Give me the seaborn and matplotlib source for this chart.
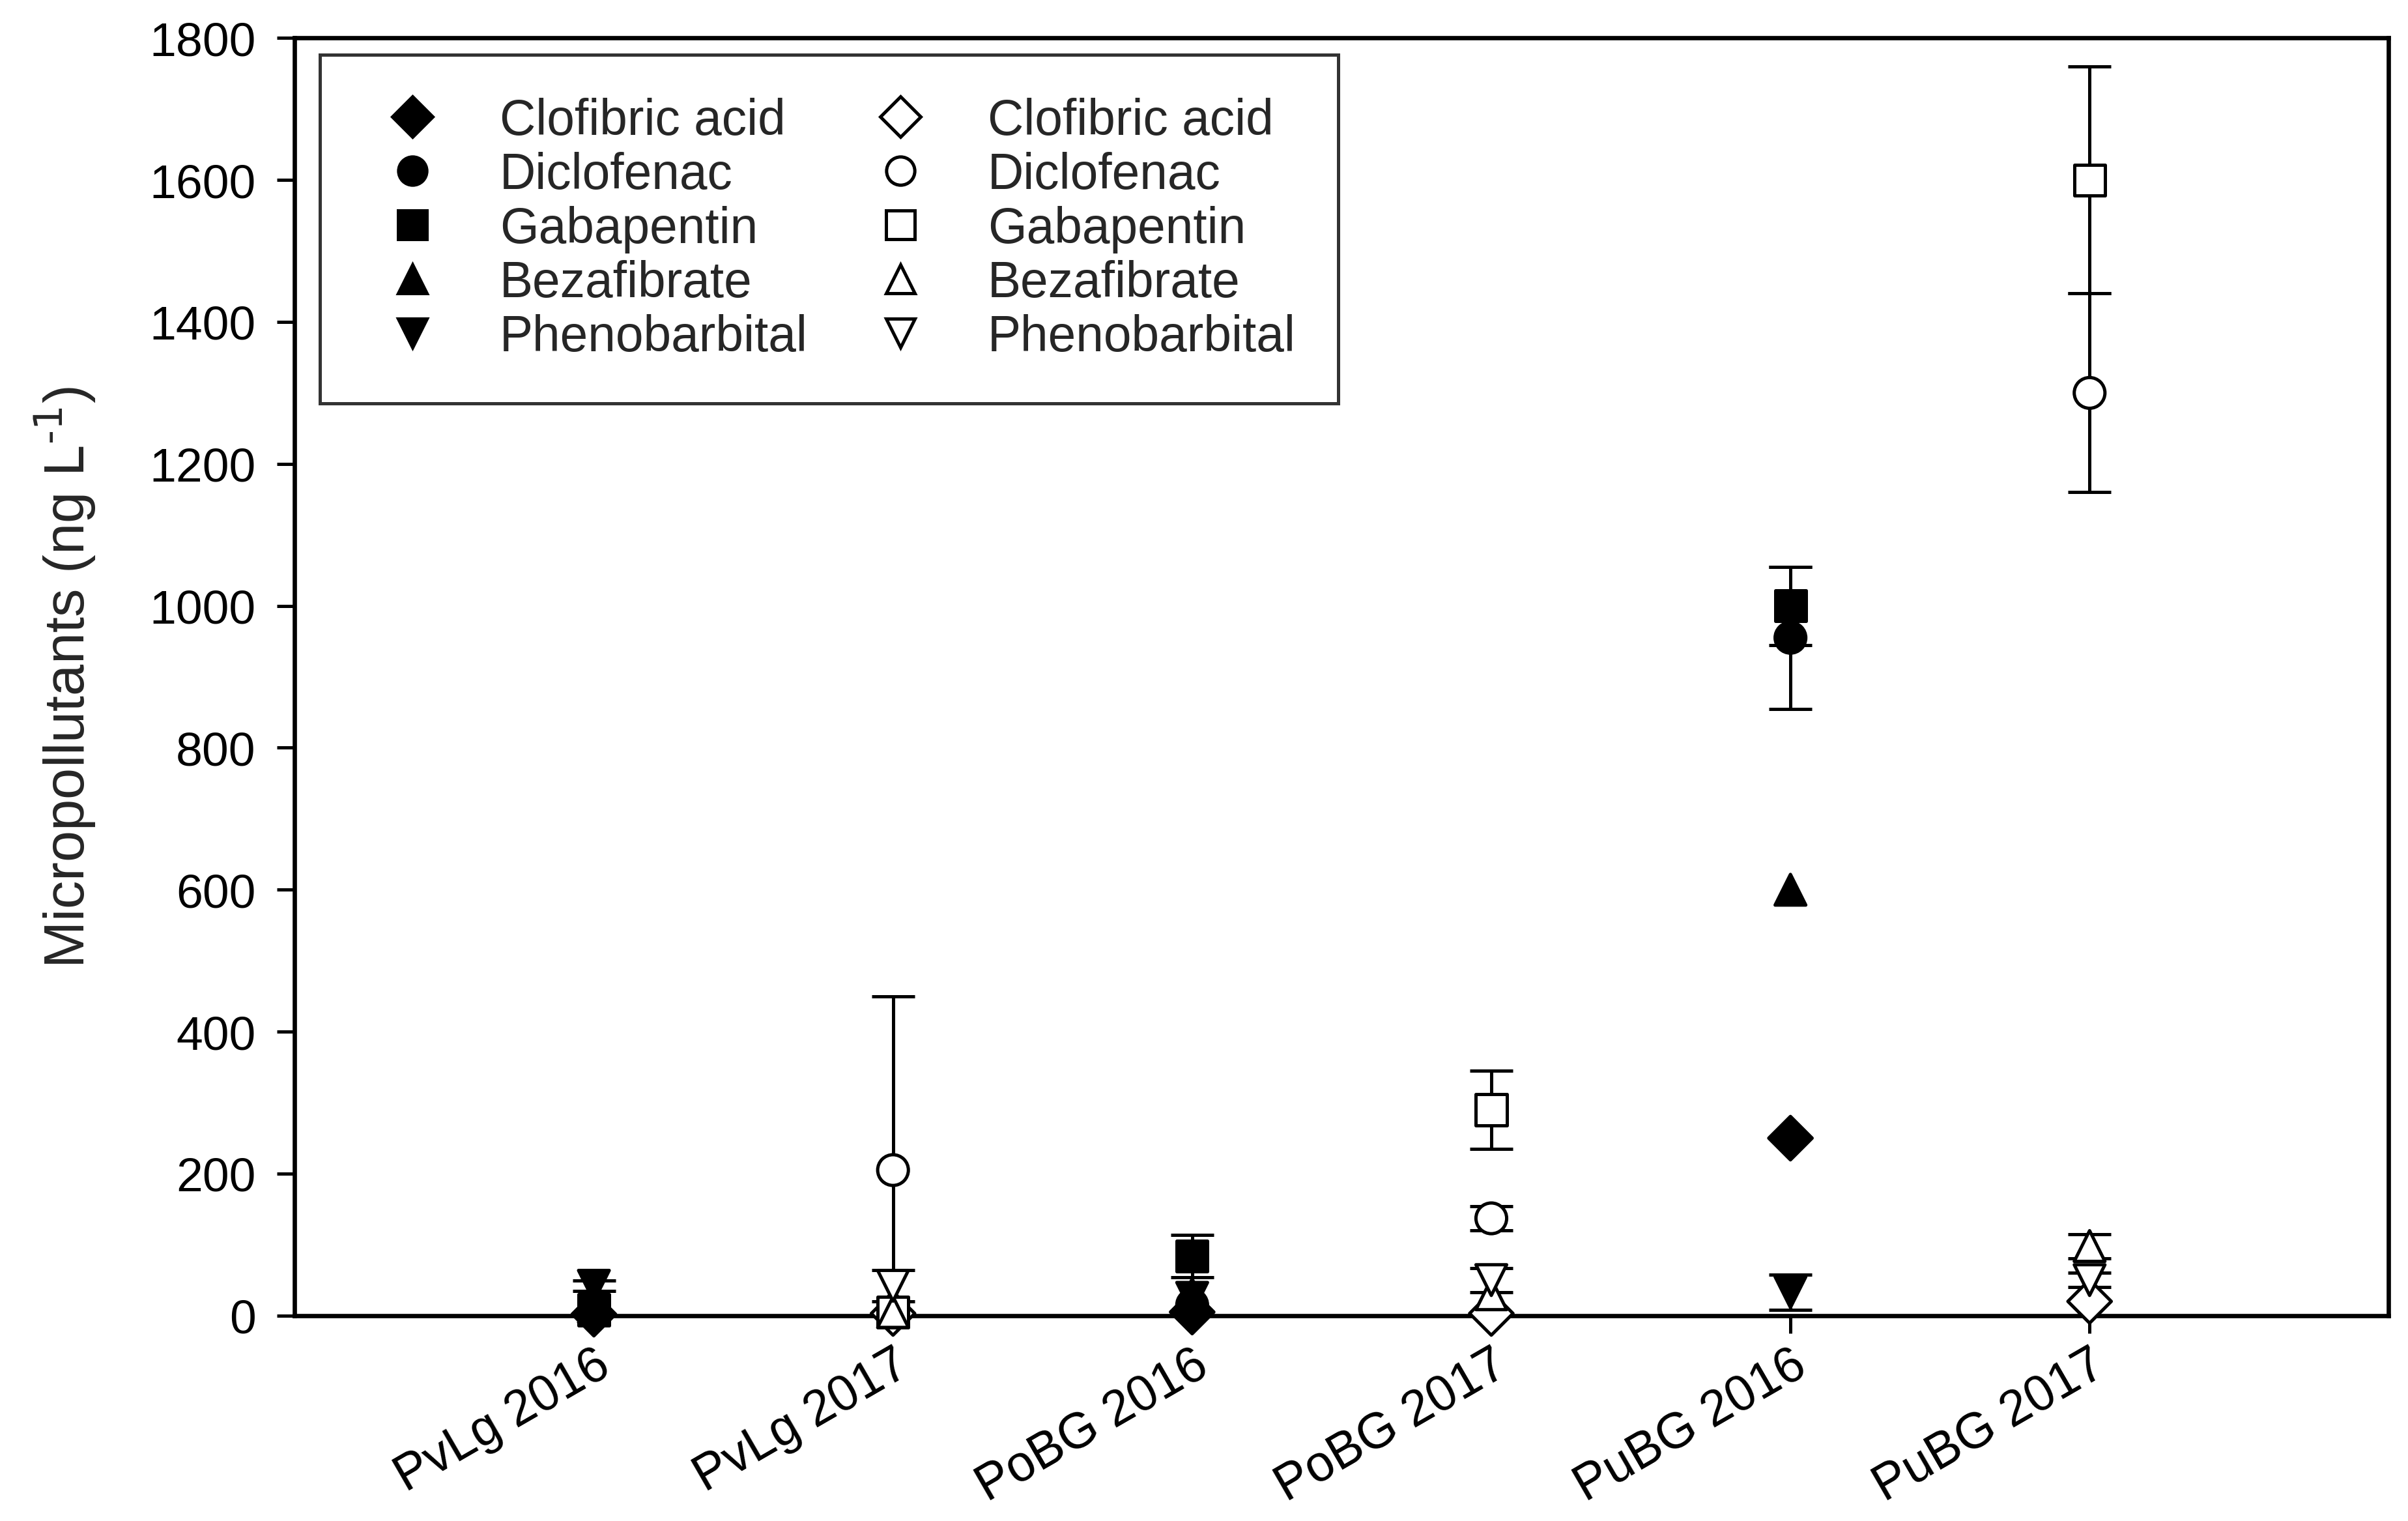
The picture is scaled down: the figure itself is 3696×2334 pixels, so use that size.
import numpy as np
import pandas as pd
import matplotlib
matplotlib.use("Agg")
import matplotlib.pyplot as plt
from matplotlib.lines import Line2D
import seaborn as sns

# sites on the x axis
sites = ["PvLg 2016", "PvLg 2017", "PoBG 2016", "PoBG 2017", "PuBG 2016", "PuBG 2017"]
compounds = ["Clofibric acid", "Diclofenac", "Gabapentin", "Bezafibrate", "Phenobarbital"]

# mean concentrations (ng/L), one value per site
clofibric = [2, 3, 5, 3, 250, 20]
diclofenac = [5, 205, 15, 137, 955, 1300]
gabapentin = [8, 5, 84, 290, 1000, 1600]
bezafibrate = [12, 5, 30, 30, 600, 98]
phenobarbital = [42, 42, 25, 50, 33, 50]

# error bars (lower, upper)
clofibric_lo = [0, 0, 0, 0, 0, 0]
clofibric_hi = [0, 0, 0, 0, 0, 0]
diclofenac_lo = [0, 205, 0, 17, 100, 140]
diclofenac_hi = [0, 245, 0, 17, 100, 140]
gabapentin_lo = [0, 0, 30, 55, 55, 160]
gabapentin_hi = [0, 0, 30, 55, 55, 160]
bezafibrate_lo = [0, 0, 0, 0, 0, 17]
bezafibrate_hi = [0, 0, 0, 0, 0, 17]
phenobarbital_lo = [7, 22, 0, 17, 25, 10]
phenobarbital_hi = [7, 22, 0, 17, 25, 10]

values = [clofibric, diclofenac, gabapentin, bezafibrate, phenobarbital]
lows = [clofibric_lo, diclofenac_lo, gabapentin_lo, bezafibrate_lo, phenobarbital_lo]
highs = [clofibric_hi, diclofenac_hi, gabapentin_hi, bezafibrate_hi, phenobarbital_hi]

rows = []
for comp, v, lo, hi in zip(compounds, values, lows, highs):
    for i, site in enumerate(sites):
        rows.append({"site": site, "pos": i, "compound": comp, "value": v[i],
                     "lo": lo[i], "hi": hi[i],
                     "kind": "filled" if site.endswith("2016") else "open"})
df = pd.DataFrame(rows)

marker_map = {"Clofibric acid": "D", "Diclofenac": "o", "Gabapentin": "s",
              "Bezafibrate": "^", "Phenobarbital": "v"}
face_map = {"filled": "black", "open": "white"}

sns.set_style("ticks")
plt.rcParams["font.family"] = ["Liberation Sans", "DejaVu Sans"]
plt.rcParams["mathtext.default"] = "regular"

fig = plt.figure(figsize=(15.4, 9.729), dpi=240)
ax = fig.add_axes([0.1224, 0.135, 0.8696, 0.8396])

# only points that carry an error bar
err = df[(df["lo"] + df["hi"]) > 0]
ax.errorbar(err["pos"], err["value"], yerr=[err["lo"], err["hi"]], fmt="none",
            ecolor="black", elinewidth=1.5, capsize=10, capthick=1.5, zorder=2)

sns.scatterplot(data=df, x="pos", y="value", style="compound", markers=marker_map,
                hue="kind", palette=face_map, edgecolor="black", linewidth=1.5,
                s=200, legend=False, ax=ax, zorder=3, clip_on=False)

ax.set_xlim(-1, 6)
ax.set_ylim(0, 1800)
ax.set_yticks(np.arange(0, 1801, 200))
ax.set_xticks(range(len(sites)))
ax.set_xticklabels(sites, rotation=30, ha="right", rotation_mode="anchor")
ax.tick_params(axis="both", labelsize=22, direction="out", length=8, width=1.5,
               color="black", labelcolor="black")
ax.tick_params(axis="x", labelsize=23)
ax.tick_params(axis="y", pad=10)
ax.set_xlabel("")
ax.set_ylabel("Micropollutants (ng L$^{\\text{-1}}$)", fontsize=26, labelpad=24)
for sp in ax.spines.values():
    sp.set_linewidth(2)
    sp.set_color("black")

handles = []
labels = []
for kind in ["filled", "open"]:
    for comp in compounds:
        handles.append(Line2D([], [], linestyle="none", marker=marker_map[comp],
                              markersize=13, markerfacecolor=face_map[kind],
                              markeredgecolor="black", markeredgewidth=1.5))
        labels.append(comp)
leg = ax.legend(handles, labels, ncol=2, loc="upper left",
                bbox_to_anchor=(0.012, 0.987), borderaxespad=0, fontsize=23,
                frameon=True, fancybox=False, edgecolor="black",
                handlelength=2.0, handletextpad=0.75, columnspacing=0.85,
                labelspacing=0.13, borderpad=0.85)
leg.get_frame().set_linewidth(1.5)

fig.savefig("out.png", dpi=240)
